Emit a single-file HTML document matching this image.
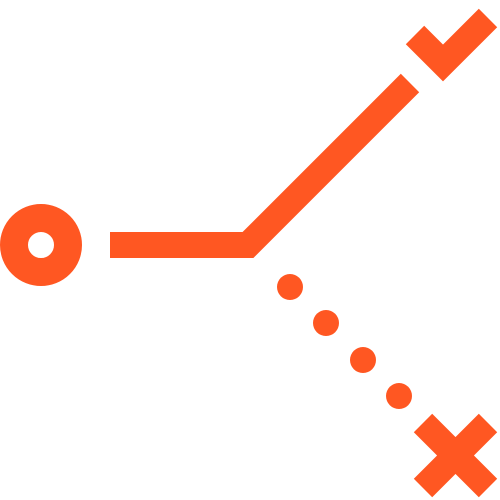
<!DOCTYPE html>
<html>
<head>
<meta charset="utf-8">
<style>
  html, body { margin: 0; padding: 0; background: #ffffff; }
  svg { display: block; }
</style>
</head>
<body>
<svg width="500" height="500" viewBox="0 0 500 500">
  <g fill="none" stroke="#FF5722">
    <circle cx="41" cy="245" r="27" stroke-width="28"/>
    <polyline points="110,245 248,245 410,83" stroke-width="26" stroke-linejoin="miter"/>
    <polyline points="415,35 443,63 488,18" stroke-width="26" stroke-linejoin="miter"/>
    <g stroke-width="26">
      <line x1="423" y1="423" x2="488" y2="488"/>
      <line x1="488" y1="423" x2="423" y2="488"/>
    </g>
  </g>
  <g fill="#FF5722">
    <circle cx="290" cy="287" r="13"/>
    <circle cx="326" cy="323" r="13"/>
    <circle cx="363" cy="360" r="13"/>
    <circle cx="399" cy="396" r="13"/>
  </g>
</svg>
</body>
</html>
